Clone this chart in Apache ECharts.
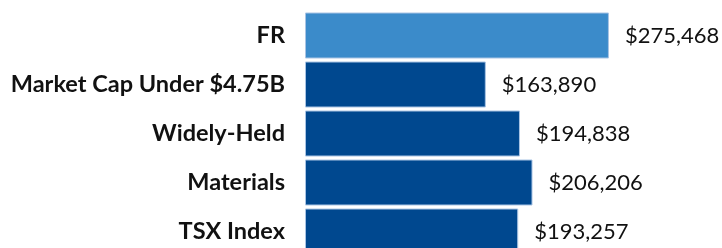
<!DOCTYPE html>
<html>
<head>
<meta charset="utf-8">
<script src="https://cdn.jsdelivr.net/npm/echarts@6/dist/echarts.min.js"></script>
<style>
  html, body { margin: 0; padding: 0; background: #fff; }
  #chart { width: 722px; height: 248px; }
</style>
</head>
<body>
<div id="chart"></div>
<script>
// categories, top to bottom
const categories = ['FR', 'Market Cap Under $4.75B', 'Widely-Held', 'Materials', 'TSX Index']
const values = [275468, 163890, 194838, 206206, 193257]
const barColors = ['#3b8bca', '#00488f', '#00488f', '#00488f', '#00488f']

const myChart = echarts.init(document.getElementById('chart'))

const fmt = v => '$' + v.toLocaleString('en-US')

myChart.setOption({
  animation: false,
  grid: {
    left: 305,
    top: 11,
    width: 331,
    bottom: -8,
    outerBoundsMode: 'none',
    containLabel: false
  },
  xAxis: {
    type: 'value',
    min: 0,
    max: 300000,
    show: false
  },
  yAxis: {
    type: 'category',
    inverse: true,
    data: categories,
    axisLine: { show: false },
    axisTick: { show: false },
    axisLabel: {
      margin: 20,
      color: '#111',
      fontFamily: 'Lato',
      fontWeight: 'bold',
      fontSize: 23.5
    }
  },
  series: [
    {
      type: 'bar',
      barWidth: 46,
      data: values.map((v, i) => ({
        value: v,
        itemStyle: { color: barColors[i] }
      })),
      itemStyle: {
        borderColor: '#a9c4e4',
        borderWidth: 1
      },
      label: {
        show: true,
        position: 'right',
        distance: 16,
        color: '#111',
        fontFamily: 'Lato',
        fontSize: 22,
        formatter: p => fmt(p.value)
      }
    }
  ]
})
</script>
</body>
</html>
